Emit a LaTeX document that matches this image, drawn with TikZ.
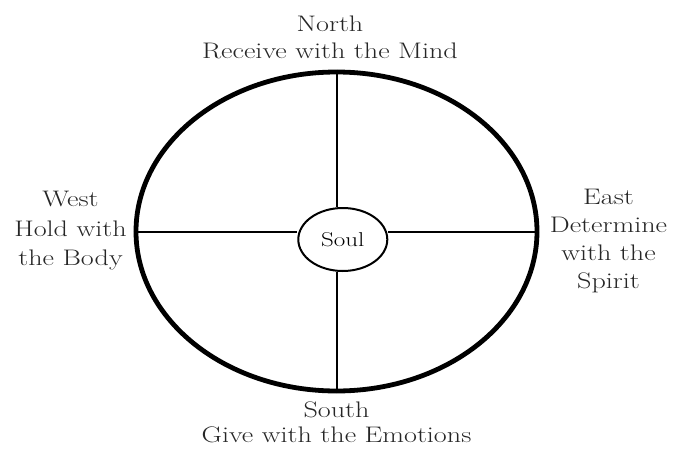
\documentclass[tikz,border=0pt]{standalone}
\usepackage{fontspec}
\setmainfont{Latin Modern Roman}[FakeStretch=1.25]
\usetikzlibrary{shapes.geometric}

\begin{document}
\begin{tikzpicture}[
    x=1pt,
    y=-1pt,
    wheel/.style={ellipse, draw, line width=4.8pt, inner sep=0pt, minimum width=401pt, minimum height=319pt},
    soulbox/.style={ellipse, draw, line width=2pt, inner sep=0pt, minimum width=89pt, minimum height=63pt, font=\fontsize{20}{24}\selectfont},
    spoke/.style={line width=2pt},
    dirlabel/.style={align=center, inner sep=0pt, text=black!85}
]
\useasboundingbox (0,0) rectangle (678,455);
% Circle and centre
\node[wheel] (ring) at (336.5,231.5) {};
\node[soulbox] (soul) at (342.8,239.5) {Soul};
% Spokes
\draw[spoke] (ring.north) -- (ring.north |- soul.north);
\draw[spoke] (ring.south) -- (ring.south |- soul.south);
\draw[spoke] (ring.west) -- (soul.west |- ring.west);
\draw[spoke] (ring.east) -- (soul.east |- ring.east);
% Directions
\node[dirlabel, font=\fontsize{22.5}{26.5}\selectfont] (north) at (330,37.5) {North\\Receive with the Mind};
\node[dirlabel, font=\fontsize{22.5}{25}\selectfont] (south) at (336.5,422) {South\\Give with the Emotions};
\node[dirlabel, font=\fontsize{22.5}{29.5}\selectfont] (west) at (70.5,231) {West\\Hold with\\the Body};
\node[dirlabel, font=\fontsize{22.5}{28}\selectfont] (east) at (608.5,241.5) {East\\Determine\\with the\\Spirit};
\end{tikzpicture}
\end{document}
